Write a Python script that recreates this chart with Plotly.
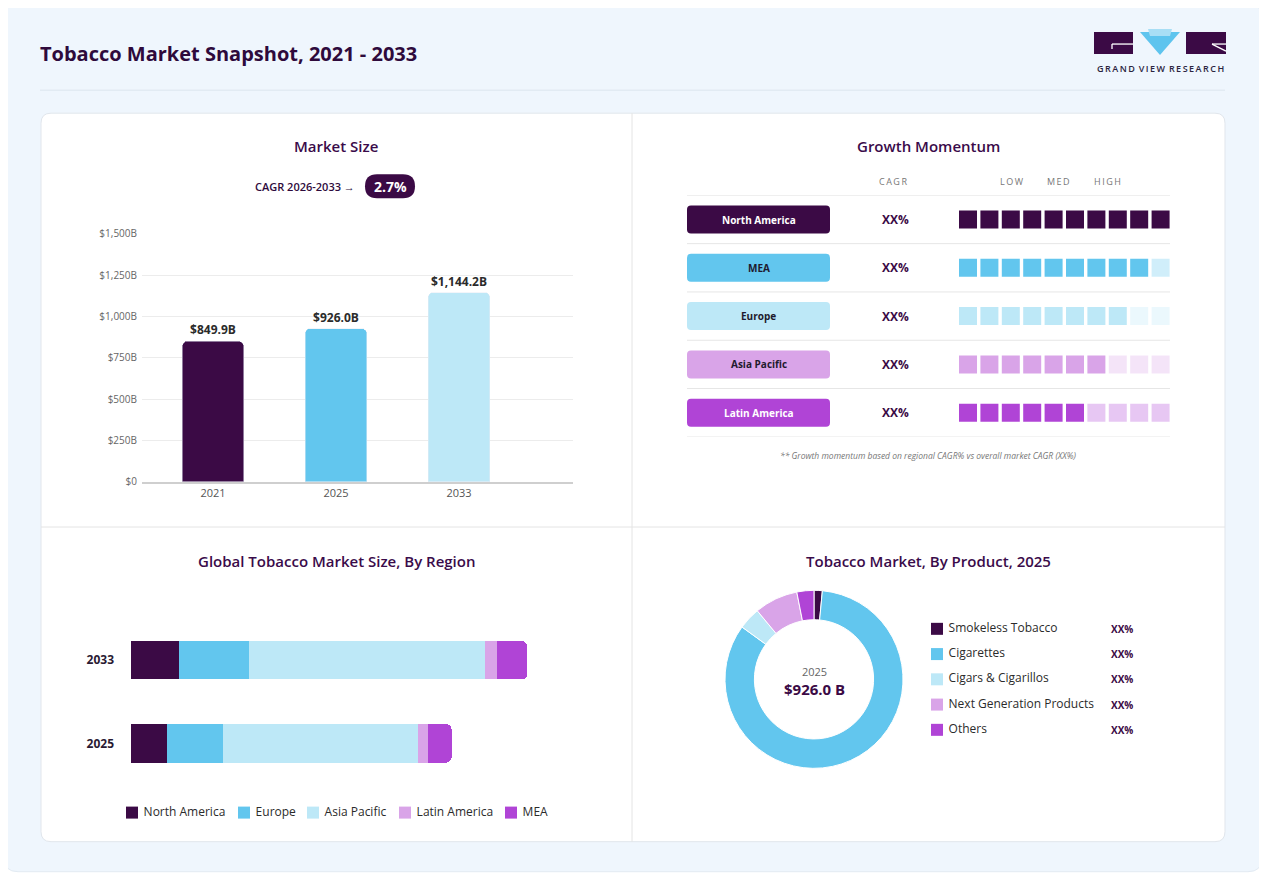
import plotly.graph_objects as go

# the page puts the graph div 8px in and ~16px down, and the photo is squeezed
# a little vertically, so reference pixels are mapped through these
OX, OY, SY = 8, 16.3, 0.982
W, H = 1267 - 2 * OX, 874

# ---- data ----
years = ["2021", "2025", "2033"]
market_size = [849.9, 926.0, 1144.2]
cagr_label = "2.7%"

growth_regions = ["North America", "MEA", "Europe", "Asia Pacific", "Latin America"]
growth_filled = [10, 9, 8, 7, 6]
growth_cagr = ["XX%", "XX%", "XX%", "XX%", "XX%"]

regions = ["North America", "Europe", "Asia Pacific", "Latin America", "MEA"]
region_2025 = [105.0, 161.0, 564.0, 29.0, 67.0]
region_2033 = [138.7, 202.2, 681.9, 34.7, 86.7]

products = ["Smokeless Tobacco", "Cigarettes", "Cigars & Cigarillos",
            "Next Generation Products", "Others"]
product_share = [1.5, 83.5, 4.0, 7.9, 3.1]
product_pct = ["XX%", "XX%", "XX%", "XX%", "XX%"]

# ---- colours ----
DARK = "#3b0a45"
TITLE = "#3a0b4a"
C_NA, C_EU, C_AP, C_LA, C_MEA = "#3b0a45", "#62c6ee", "#bde8f7", "#d9a4e8", "#b044d6"
bar_colors = [C_NA, C_EU, C_AP]
region_colors = [C_NA, C_EU, C_AP, C_LA, C_MEA]
growth_colors = [C_NA, C_EU, C_AP, C_LA, C_MEA]
growth_text = ["white", "#1f1b2e", "#1f1b2e", "#1f1b2e", "white"]
product_colors = [C_NA, C_EU, C_AP, C_LA, C_MEA]
FONT = "Open Sans"

# legend entry positions (px) for the region chart
legend_x = [132, 244, 313, 405, 511]


def px(x):
    return (x - OX) / W


def py(y):
    return 1 - (y / SY - OY) / H


def rrect(x0, y0, x1, y1, r, fx=px, fy=py):
    pts = [("M", x0 + r, y0), ("L", x1 - r, y0), ("Q", x1, y0, x1, y0 + r),
           ("L", x1, y1 - r), ("Q", x1, y1, x1 - r, y1), ("L", x0 + r, y1),
           ("Q", x0, y1, x0, y1 - r), ("L", x0, y0 + r), ("Q", x0, y0, x0 + r, y0)]
    s = ""
    for p in pts:
        if p[0] == "Q":
            s += "Q%.5f,%.5f %.5f,%.5f " % (fx(p[1]), fy(p[2]), fx(p[3]), fy(p[4]))
        else:
            s += "%s%.5f,%.5f " % (p[0], fx(p[1]), fy(p[2]))
    return s + "Z"


fig = go.Figure()

# market size bars
fig.add_trace(go.Bar(
    x=years, y=market_size, marker_color=bar_colors, width=0.5,
    text=["$%sB" % format(v, ",.1f") for v in market_size], textposition="outside",
    textfont=dict(size=12, color="#2b2b2b", family=FONT, weight="bold"),
    cliponaxis=False, showlegend=False, hoverinfo="skip",
    xaxis="x", yaxis="y"))

# growth momentum squares
sq_x, sq_y, sq_c, sq_o = [], [], [], []
for i, n in enumerate(growth_filled):
    for k in range(1, 11):
        sq_x.append(k)
        sq_y.append(i)
        sq_c.append(growth_colors[i])
        sq_o.append(1.0 if k <= n else 0.3)
fig.add_trace(go.Scatter(
    x=sq_x, y=sq_y, mode="markers",
    marker=dict(symbol="square", size=18, color=sq_c, opacity=sq_o, line_width=0),
    showlegend=False, hoverinfo="skip", xaxis="x2", yaxis="y2"))

# stacked region bars
for name, c, v25, v33 in zip(regions, region_colors, region_2025, region_2033):
    fig.add_trace(go.Bar(
        y=["2025", "2033"], x=[v25, v33], name=name, orientation="h",
        marker=dict(color=c, line_width=0), width=0.46, showlegend=False,
        xaxis="x4", yaxis="y4", hoverinfo="name+x"))

# region legend
fig.add_trace(go.Scatter(
    x=legend_x, y=[0] * len(regions), mode="markers+text",
    text=[" " + r for r in regions], textposition="middle right",
    textfont=dict(size=12, color="#2b2b2b", family=FONT),
    marker=dict(symbol="square", size=12, color=region_colors),
    showlegend=False, hoverinfo="skip", cliponaxis=False,
    xaxis="x6", yaxis="y6"))

# donut
fig.add_trace(go.Pie(
    labels=products, values=product_share, hole=0.67, sort=False,
    direction="clockwise", rotation=0, textinfo="none",
    marker=dict(colors=product_colors, line=dict(color="white", width=1)),
    domain=dict(x=[px(725), px(903)], y=[py(767), py(589)]),
    showlegend=False))

# donut legend
fig.add_trace(go.Scatter(
    x=[0] * len(products), y=list(range(len(products))), mode="markers+text",
    text=[" " + p for p in products], textposition="middle right",
    textfont=dict(size=12, color="#2b2b2b", family=FONT),
    marker=dict(symbol="square", size=12, color=product_colors),
    showlegend=False, hoverinfo="skip", cliponaxis=False,
    xaxis="x5", yaxis="y5"))

hidden = dict(visible=False, fixedrange=True)

fig.update_layout(
    width=W, height=H, margin=dict(l=0, r=0, t=0, b=0),
    paper_bgcolor="white", plot_bgcolor="rgba(0,0,0,0)",
    font=dict(family=FONT, color="#333"),
    barmode="stack", barcornerradius=5, bargap=0.3,
    xaxis=dict(domain=[px(142), px(573)], range=[-0.577, 2.927], type="category",
               showgrid=False, showline=True, linecolor="#cfcfcf", linewidth=1.5,
               ticks="", tickfont=dict(size=11, color="#555"), fixedrange=True),
    yaxis=dict(domain=[py(480.7), py(233.3)], range=[0, 1500],
               tickvals=[0, 250, 500, 750, 1000, 1250, 1500],
               ticktext=["$0", "$250B", "$500B", "$750B", "$1,000B", "$1,250B", "$1,500B"],
               gridcolor="#ececec", zeroline=False, tickfont=dict(size=10, color="#666"),
               ticklabelstandoff=4, fixedrange=True),
    xaxis2=dict(domain=[px(959), px(1170)], range=[0.579, 10.44], anchor="y2", **hidden),
    yaxis2=dict(domain=[py(436), py(195)], range=[4.5, -0.5], anchor="x2", **hidden),
    xaxis3=dict(domain=[px(687), px(830)], range=[0, 1], anchor="y2", **hidden),
    xaxis4=dict(domain=[px(131), px(581)], range=[0, 1300], anchor="y4", **hidden),
    yaxis4=dict(domain=[py(800), py(600)], range=[-0.699, 1.711], type="category",
                categoryorder="array", categoryarray=["2025", "2033"], anchor="x4",
                showgrid=False, showline=False, ticks="", fixedrange=True,
                tickfont=dict(size=12, color="#2a1a33", weight="bold"),
                ticklabelstandoff=16),
    xaxis5=dict(domain=[px(931), px(1180)], range=[-0.024, 0.976], anchor="y5", **hidden),
    yaxis5=dict(domain=[py(741), py(615)], range=[4.5, -0.5], anchor="x5", **hidden),
    xaxis6=dict(domain=[px(100), px(600)], range=[100, 600], anchor="y6", **hidden),
    yaxis6=dict(domain=[py(821), py(801)], range=[-1, 1], anchor="x6", **hidden),
    showlegend=False,
)

shapes = []
# background cards
shapes.append(dict(type="path", path=rrect(4, 4, 1262, 870, 14), xref="paper", yref="paper",
                   fillcolor="#eff6fd", line=dict(color="#e2eaf2", width=1), layer="below"))
shapes.append(dict(type="line", x0=px(40), x1=px(1225), y0=py(90), y1=py(90),
                   xref="paper", yref="paper", line=dict(color="#dce5ee", width=1), layer="below"))
shapes.append(dict(type="path", path=rrect(41, 113, 1225, 840, 10), xref="paper", yref="paper",
                   fillcolor="white", line=dict(color="#e1e6ec", width=1), layer="below"))
shapes.append(dict(type="line", x0=px(632), x1=px(632), y0=py(113), y1=py(840),
                   xref="paper", yref="paper", line=dict(color="#e4e4e4", width=1), layer="below"))
shapes.append(dict(type="line", x0=px(41), x1=px(1225), y0=py(526), y1=py(526),
                   xref="paper", yref="paper", line=dict(color="#e4e4e4", width=1), layer="below"))

# logo
shapes.append(dict(type="rect", x0=px(1094), x1=px(1133), y0=py(54), y1=py(32),
                   xref="paper", yref="paper", fillcolor=DARK, line_width=0))
shapes.append(dict(type="path", path="M%f,%f L%f,%f L%f,%f Z" % (px(1140), py(32), px(1180), py(32), px(1160), py(55)),
                   xref="paper", yref="paper", fillcolor="#5ec4ee", line_width=0))
shapes.append(dict(type="path", path="M%f,%f L%f,%f L%f,%f L%f,%f Z" % (px(1148), py(29), px(1172), py(29), px(1170), py(36), px(1150), py(36)),
                   xref="paper", yref="paper", fillcolor="#a8def5", line_width=0))
shapes.append(dict(type="rect", x0=px(1186), x1=px(1226), y0=py(54), y1=py(32),
                   xref="paper", yref="paper", fillcolor=DARK, line_width=0))
for (a, b, c, d) in [(1112, 44, 1133, 44), (1112, 44, 1112, 49), (1212, 44, 1226, 51), (1212, 44, 1226, 44)]:
    shapes.append(dict(type="line", x0=px(a), y0=py(b), x1=px(c), y1=py(d),
                       xref="paper", yref="paper", line=dict(color="white", width=1.3)))

# CAGR pill
shapes.append(dict(type="path", path=rrect(365, 174, 415, 198, 12), xref="paper", yref="paper",
                   fillcolor=DARK, line_width=0))

# growth momentum row lines and pills
for i in range(len(growth_regions) + 1):
    shapes.append(dict(type="line", x0=px(687), x1=px(1170), y0=i - 0.5, y1=i - 0.5,
                       xref="paper", yref="y2", line=dict(color="#e6e6e6", width=1), layer="below"))
ux, uy = 1 / 143.0, 1 / 48.2
for i, c in enumerate(growth_colors):
    r = 4
    x0, x1, y0, y1 = 0, 1, i - 0.29, i + 0.29
    path = ("M%f,%f L%f,%f Q%f,%f %f,%f L%f,%f Q%f,%f %f,%f L%f,%f Q%f,%f %f,%f L%f,%f Q%f,%f %f,%f Z" % (
        x0 + r * ux, y0, x1 - r * ux, y0, x1, y0, x1, y0 + r * uy,
        x1, y1 - r * uy, x1, y1, x1 - r * ux, y1,
        x0 + r * ux, y1, x0, y1, x0, y1 - r * uy,
        x0, y0 + r * uy, x0, y0, x0 + r * ux, y0))
    shapes.append(dict(type="path", path=path, xref="x3", yref="y2", fillcolor=c, line_width=0))

fig.update_layout(shapes=shapes)

ann = []


def text(x, y, s, size, color=TITLE, weight="normal", xanchor="center", xref="paper", yref="paper", italic=False):
    ann.append(dict(x=x, y=y, xref=xref, yref=yref, text=s, showarrow=False,
                    xanchor=xanchor, yanchor="middle",
                    font=dict(size=size, color=color, family=FONT, weight=weight,
                              style="italic" if italic else "normal")))


text(px(38), py(53), "Tobacco Market Snapshot, 2021 - 2033", 20, color="#2e0a3c", weight="bold", xanchor="left")
text(px(1160), py(68), "\u00a0\u2009".join("\u2009".join(w) for w in ["GRAND", "VIEW", "RESEARCH"]), 9, color="#2b2440", weight=600)

text(px(336), py(146), "Market Size", 15, weight=600)
text(px(928), py(146), "Growth Momentum", 15, weight=600)
text(px(336), py(560), "Global Tobacco Market Size, By Region", 15, weight=600)
text(px(928), py(560), "Tobacco Market, By Product, 2025", 15, weight=600)

text(px(357), py(186), "CAGR 2026-2033 \u2192", 11, color="#2e0a3c", weight=600, xanchor="right")
text(px(390), py(186), cagr_label, 14, color="white", weight="bold")

for s, x in [("C\u2009A\u2009G\u2009R", 893), ("L\u2009O\u2009W", 1012), ("M\u2009E\u2009D", 1058), ("H\u2009I\u2009G\u2009H", 1107)]:
    text(px(x), py(181), s, 9, color="#777")

for i, name in enumerate(growth_regions):
    text(0.5, i, name, 10, color=growth_text[i], weight="bold", xref="x3", yref="y2")
    text(px(895), i, growth_cagr[i], 12, color=DARK, weight="bold", yref="y2")

text(px(928), py(455), "** Growth momentum based on regional CAGR% vs overall market CAGR (XX%)", 8.5,
     color="#777", italic=True)

text(px(814), py(670), "2025", 11, color="#666")
text(px(814), py(688), "$%s B" % format(market_size[1], ",.1f"), 15, color=DARK, weight="bold")

for i, s in enumerate(product_pct):
    text(px(1122), i, s, 10, color=DARK, weight="bold", yref="y5")

fig.update_layout(annotations=ann)

fig.write_html("out.html")
